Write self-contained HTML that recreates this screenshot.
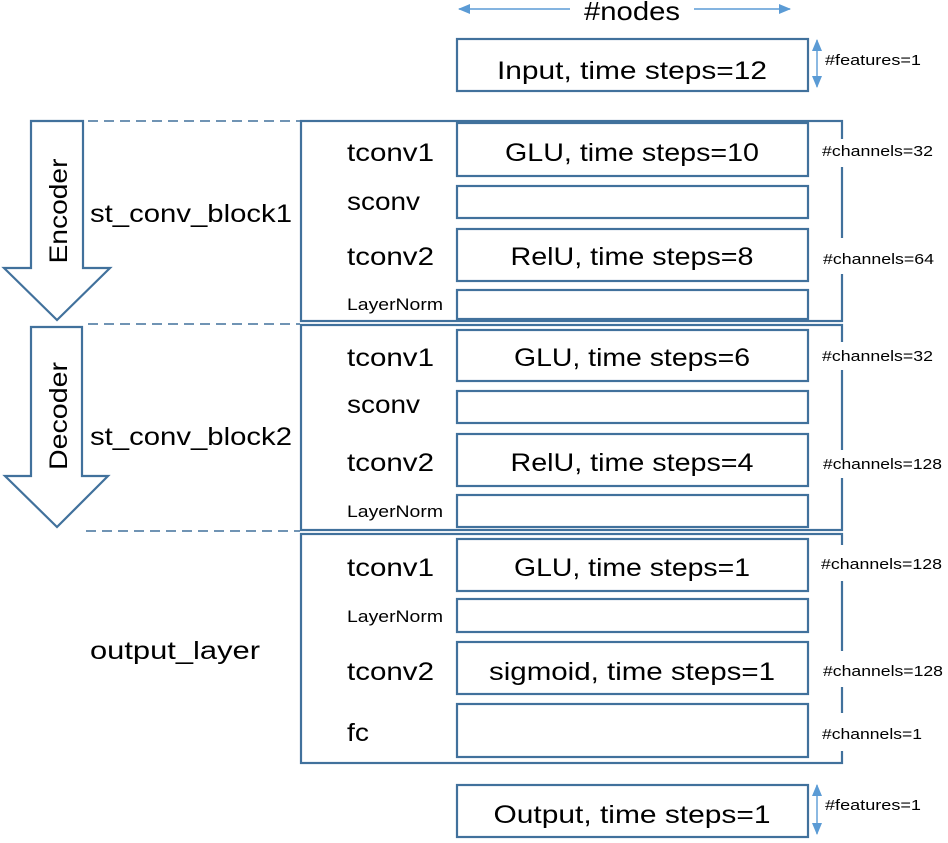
<!DOCTYPE html>
<html><head><meta charset="utf-8"><style>
html,body{margin:0;padding:0;background:#fff;}
svg{display:block;}
text{font-family:"Liberation Sans",sans-serif;fill:#000;}
</style></head><body>
<svg width="948" height="843" viewBox="0 0 948 843" xmlns="http://www.w3.org/2000/svg">
<defs>
<marker id="ah" markerWidth="12" markerHeight="10" refX="11" refY="5" orient="auto" markerUnits="userSpaceOnUse">
<path d="M0,0 L12,5 L0,10 Z" fill="#5b9bd5"/></marker>
</defs>
<g stroke="#5b9bd5" stroke-width="1.4" fill="none">
<line x1="570" y1="9" x2="459" y2="9" marker-end="url(#ah)"/>
<line x1="694" y1="9" x2="790" y2="9" marker-end="url(#ah)"/>
<line x1="817" y1="63" x2="817" y2="40" marker-end="url(#ah)"/>
<line x1="817" y1="63" x2="817" y2="87" marker-end="url(#ah)"/>
<line x1="817" y1="810" x2="817" y2="785" marker-end="url(#ah)"/>
<line x1="817" y1="810" x2="817" y2="834" marker-end="url(#ah)"/>
</g>
<text x="632" y="20" font-size="26" text-anchor="middle" textLength="96" lengthAdjust="spacingAndGlyphs">#nodes</text>
<text x="825" y="65" font-size="15" textLength="96" lengthAdjust="spacingAndGlyphs">#features=1</text>
<text x="825" y="810" font-size="15" textLength="96" lengthAdjust="spacingAndGlyphs">#features=1</text>

<g stroke="#41719c" stroke-width="2.2" fill="none">
<line x1="88" y1="121" x2="300" y2="121" stroke-dasharray="10,6" stroke-width="1.5"/>
<line x1="88" y1="324" x2="300" y2="324" stroke-dasharray="10,6" stroke-width="1.5"/>
<line x1="86" y1="531" x2="300" y2="531" stroke-dasharray="10,6" stroke-width="1.5"/>
<path d="M31,121 L83,121 L83,268 L110,268 L57,320 L4,268 L31,268 Z" fill="#fff"/>
<path d="M31,327 L82,327 L82,476 L108,476 L57,527 L5,476 L31,476 Z" fill="#fff"/>
<rect x="301" y="121" width="541" height="200"/>
<rect x="301" y="325" width="541" height="205"/>
<rect x="301" y="534" width="541" height="229"/>
<rect x="457" y="39" width="351" height="52"/>
<rect x="457" y="123" width="351" height="53"/>
<rect x="457" y="186" width="351" height="32"/>
<rect x="457" y="229" width="351" height="52"/>
<rect x="457" y="290" width="351" height="29"/>
<rect x="457" y="330" width="351" height="51"/>
<rect x="457" y="391" width="351" height="32"/>
<rect x="457" y="434" width="351" height="52"/>
<rect x="457" y="495" width="351" height="32"/>
<rect x="457" y="539" width="351" height="52"/>
<rect x="457" y="599" width="351" height="33"/>
<rect x="457" y="642" width="351" height="52"/>
<rect x="457" y="704" width="351" height="53"/>
<rect x="457" y="785" width="351" height="52"/>
</g>
<g fill="#fff">
<rect x="838" y="139" width="8" height="28"/>
<rect x="838" y="238" width="8" height="36"/>
<rect x="838" y="342" width="8" height="28"/>
<rect x="838" y="450" width="8" height="28"/>
<rect x="838" y="545" width="8" height="36"/>
<rect x="838" y="651" width="8" height="36"/>
<rect x="838" y="713" width="8" height="38"/>
</g>

<text transform="translate(67,211) rotate(-90)" font-size="25" text-anchor="middle" textLength="105" lengthAdjust="spacingAndGlyphs">Encoder</text>
<text transform="translate(67,416) rotate(-90)" font-size="25" text-anchor="middle" textLength="108" lengthAdjust="spacingAndGlyphs">Decoder</text>

<g font-size="25">
<text x="90" y="222" textLength="202" lengthAdjust="spacingAndGlyphs">st_conv_block1</text>
<text x="90" y="445" textLength="202" lengthAdjust="spacingAndGlyphs">st_conv_block2</text>
<text x="90" y="659" textLength="170" lengthAdjust="spacingAndGlyphs">output_layer</text>

<text x="347" y="161" textLength="87" lengthAdjust="spacingAndGlyphs">tconv1</text>
<text x="347" y="210" textLength="73" lengthAdjust="spacingAndGlyphs">sconv</text>
<text x="347" y="265" textLength="87" lengthAdjust="spacingAndGlyphs">tconv2</text>
<text x="347" y="366" textLength="87" lengthAdjust="spacingAndGlyphs">tconv1</text>
<text x="347" y="413" textLength="73" lengthAdjust="spacingAndGlyphs">sconv</text>
<text x="347" y="471" textLength="87" lengthAdjust="spacingAndGlyphs">tconv2</text>
<text x="347" y="576" textLength="87" lengthAdjust="spacingAndGlyphs">tconv1</text>
<text x="347" y="680" textLength="87" lengthAdjust="spacingAndGlyphs">tconv2</text>
<text x="347" y="741" textLength="22" lengthAdjust="spacingAndGlyphs">fc</text>

<text x="632" y="79" text-anchor="middle" textLength="270" lengthAdjust="spacingAndGlyphs">Input, time steps=12</text>
<text x="632" y="161" text-anchor="middle" textLength="254" lengthAdjust="spacingAndGlyphs">GLU, time steps=10</text>
<text x="632" y="265" text-anchor="middle" textLength="243" lengthAdjust="spacingAndGlyphs">RelU, time steps=8</text>
<text x="632" y="366" text-anchor="middle" textLength="236" lengthAdjust="spacingAndGlyphs">GLU, time steps=6</text>
<text x="632" y="471" textLength="243" text-anchor="middle" lengthAdjust="spacingAndGlyphs">RelU, time steps=4</text>
<text x="632" y="576" text-anchor="middle" textLength="236" lengthAdjust="spacingAndGlyphs">GLU, time steps=1</text>
<text x="632" y="680" text-anchor="middle" textLength="286" lengthAdjust="spacingAndGlyphs">sigmoid, time steps=1</text>
<text x="632" y="823" text-anchor="middle" textLength="277" lengthAdjust="spacingAndGlyphs">Output, time steps=1</text>
</g>
<g font-size="17">
<text x="347" y="310" textLength="96" lengthAdjust="spacingAndGlyphs">LayerNorm</text>
<text x="347" y="517" textLength="96" lengthAdjust="spacingAndGlyphs">LayerNorm</text>
<text x="347" y="622" textLength="96" lengthAdjust="spacingAndGlyphs">LayerNorm</text>
</g>
<g font-size="15">
<text x="822" y="156" textLength="111" lengthAdjust="spacingAndGlyphs">#channels=32</text>
<text x="823" y="264" textLength="111" lengthAdjust="spacingAndGlyphs">#channels=64</text>
<text x="822" y="361" textLength="111" lengthAdjust="spacingAndGlyphs">#channels=32</text>
<text x="823" y="469" textLength="119" lengthAdjust="spacingAndGlyphs">#channels=128</text>
<text x="821" y="569" textLength="121" lengthAdjust="spacingAndGlyphs">#channels=128</text>
<text x="823" y="676" textLength="120" lengthAdjust="spacingAndGlyphs">#channels=128</text>
<text x="822" y="739" textLength="100" lengthAdjust="spacingAndGlyphs">#channels=1</text>
</g>
</svg>
</body></html>
